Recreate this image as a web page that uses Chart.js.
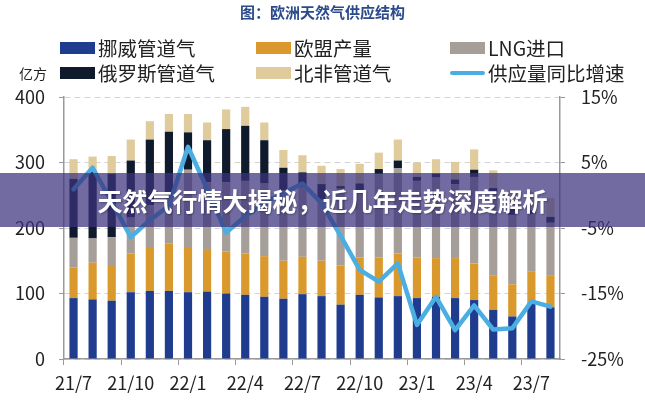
<!DOCTYPE html>
<html lang="zh">
<head>
<meta charset="utf-8">
<script src="https://cdn.jsdelivr.net/npm/chart.js@4.4.1/dist/chart.umd.min.js"></script>
<style>
  body { margin: 0; background: #fff; }
  #wrap { position: relative; width: 645px; height: 400px; font-family: "Noto Sans CJK SC", "Noto Sans", sans-serif; color: #222; }
  #myChart { position: absolute; left: 0; top: 0; }
  .title { position: absolute; left: 0; width: 645px; top: 2px; text-align: center; font-size: 15px; font-weight: bold; color: #2b4a8b; line-height: 20px; }
  .unit { position: absolute; left: 19px; top: 63px; font-size: 14px; line-height: 20px; }
  #legend { position: absolute; left: 60px; top: 35px; display: grid; grid-template-columns: 196px 194px auto; grid-auto-rows: 25px; font-size: 19.5px; line-height: 25px; }
  .item { display: flex; align-items: center; white-space: nowrap; }
  .box { width: 35px; height: 12px; margin-right: 3px; }
  .ln { width: 35px; height: 4px; border-radius: 2px; margin-right: 3px; }
  .banner { position: absolute; left: 0; top: 173px; width: 645px; height: 54px; background: rgba(58, 50, 125, 0.72); color: #fff; font-size: 25px; font-weight: bold; line-height: 54px; text-align: center; text-shadow: 1px 1px 2px rgba(0,0,0,0.3); }
</style>
</head>
<body>
<div id="wrap">
  <canvas id="myChart" width="645" height="400"></canvas>
  <div class="title">图：欧洲天然气供应结构</div>
  <div class="unit">亿方</div>
  <div id="legend"></div>
  <div class="banner">天然气行情大揭秘，近几年走势深度解析</div>
</div>
<script>
const months = ["21/7", "21/8", "21/9", "21/10", "21/11", "21/12", "22/1", "22/2", "22/3", "22/4", "22/5", "22/6", "22/7",
  "22/8", "22/9", "22/10", "22/11", "22/12", "23/1", "23/2", "23/3", "23/4", "23/5", "23/6", "23/7", "23/8"];

// 亿方
const norway = [93, 91, 89, 102, 104, 104, 102, 103, 100, 98, 95, 92, 99, 96, 83, 98, 94, 96, 93, 95, 93, 90, 75, 65, 85, 79];
const euProd = [47, 56, 53, 59, 67, 72, 69, 65, 64, 63, 62, 58, 57, 54, 60, 57, 61, 65, 62, 59, 61, 56, 52, 49, 49, 49];
const lng = [45, 37, 44, 55, 64, 79, 118, 102, 106, 111, 111, 108, 106, 93, 117, 103, 127, 130, 117, 123, 113, 132, 128, 106, 87, 80];
const russia = [90, 102, 97, 87, 100, 92, 57, 64, 81, 84, 66, 34, 23, 24, 4, 10, 8, 12, 6, 6, 7, 11, 6, 9, 6, 9];
const northAfrica = [30, 23, 27, 32, 28, 27, 28, 27, 30, 29, 27, 27, 26, 28, 26, 30, 25, 32, 22, 22, 27, 31, 27, 28, 28, 29];
// %
const growth = [0.9, 4.2, -1.0, -6.4, -3.8, -1.6, 7.4, 1.0, -5.7, -3.2, -1.2, 0.3, 1.8, -1.2, -6.2, -11.4, -13.2, -10.4,
  -19.8, -15.5, -20.6, -16.8, -20.5, -20.3, -16.2, -17.0];

const leftTicks = [0, 100, 200, 300, 400];
const rightTicks = [-25, -15, -5, 5, 15];

const tickFont = { family: "Noto Sans CJK SC", size: 18 };

const data = {
  labels: months,
  datasets: [
    { type: "line", label: "供应量同比增速", data: growth, yAxisID: "y1", borderColor: "#4aaee3", borderWidth: 4.5,
      pointRadius: 0, tension: 0, borderJoinStyle: "round", borderCapStyle: "round", order: 0 },
    { label: "挪威管道气", data: norway, backgroundColor: "#1f3c8e", order: 1 },
    { label: "欧盟产量", data: euProd, backgroundColor: "#d9992c", order: 1 },
    { label: "LNG进口", data: lng, backgroundColor: "#a69e98", order: 1 },
    { label: "俄罗斯管道气", data: russia, backgroundColor: "#0f1b2d", order: 1 },
    { label: "北非管道气", data: northAfrica, backgroundColor: "#dfcb9c", order: 1 },
  ],
};

data.datasets.slice(1).forEach((ds) => {
  ds.type = "bar";
  ds.categoryPercentage = 1;
  ds.barPercentage = 0.43;
});

const config = {
  data: data,
  options: {
    responsive: false,
    animation: false,
    layout: { padding: { top: 97 } },
    plugins: { legend: { display: false }, tooltip: { enabled: false } },
    scales: {
      x: {
        stacked: true,
        offset: true,
        afterFit: (scale) => { scale.height = 41; },
        grid: {
          offset: true,
          drawOnChartArea: false,
          tickLength: 6,
          tickColor: (ctx) => (ctx.index % 3 === 0 ? "#999" : "rgba(0,0,0,0)"),
        },
        border: { color: "#999", width: 1.5 },
        ticks: {
          autoSkip: false,
          maxRotation: 0,
          padding: 7,
          color: "#222",
          font: tickFont,
          callback: function (v, i) {
            return i % 3 === 0 ? this.getLabelForValue(v) : "";
          },
        },
      },
      y: {
        stacked: true,
        min: 0,
        max: 400,
        afterFit: (scale) => { scale.width = 64; },
        afterBuildTicks: (scale) => { scale.ticks = leftTicks.map((v) => ({ value: v })); },
        grid: { color: "#d4d4d4", tickColor: "#999", tickLength: 5 },
        border: { color: "#999", width: 1.5, dash: [6, 4] },
        ticks: { padding: 14, color: "#222", font: tickFont },
      },
      y1: {
        position: "right",
        min: -25,
        max: 15,
        afterFit: (scale) => { scale.width = 85; },
        afterBuildTicks: (scale) => { scale.ticks = rightTicks.map((v) => ({ value: v })); },
        grid: { drawOnChartArea: false, tickColor: "#999", tickLength: 5 },
        border: { color: "#999", width: 1.5 },
        ticks: { padding: 16, color: "#222", font: tickFont, callback: (v) => v + "%" },
      },
    },
  },
};

const chart = new Chart(document.getElementById("myChart"), config);

// legend in the same 3x2 grid as the picture
const legendOrder = [1, 2, 3, 4, 5, 0];
const legend = document.getElementById("legend");
legendOrder.forEach((i) => {
  const ds = data.datasets[i];
  const item = document.createElement("div");
  item.className = "item";
  const mark = document.createElement("span");
  mark.className = ds.type === "line" ? "ln" : "box";
  mark.style.background = ds.type === "line" ? ds.borderColor : ds.backgroundColor;
  item.appendChild(mark);
  item.appendChild(document.createTextNode(ds.label));
  legend.appendChild(item);
});
</script>
</body>
</html>
